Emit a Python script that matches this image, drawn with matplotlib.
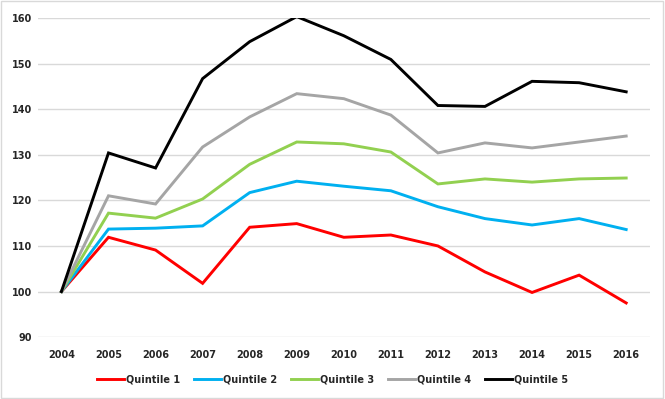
import numpy as np
import matplotlib.pyplot as plt
from matplotlib.patches import Rectangle

years = np.arange(2004, 2017)
q1 = [100, 111.9, 109.1, 101.8, 114.1, 114.9, 111.9, 112.4, 110.0, 104.3, 99.8, 103.6, 97.5]
q2 = [100, 113.7, 113.9, 114.4, 121.7, 124.2, 123.1, 122.1, 118.6, 116.0, 114.6, 116.0, 113.6]
q3 = [100, 117.2, 116.1, 120.3, 127.9, 132.8, 132.4, 130.6, 123.6, 124.7, 124.0, 124.7, 124.9]
q4 = [100, 121.0, 119.2, 131.7, 138.3, 143.4, 142.3, 138.7, 130.4, 132.6, 131.5, 132.8, 134.1]
q5 = [100, 130.4, 127.1, 146.7, 154.8, 160.3, 156.1, 150.9, 140.8, 140.6, 146.1, 145.8, 143.8]

labels = ['Quintile 1', 'Quintile 2', 'Quintile 3', 'Quintile 4', 'Quintile 5']
colors = ['#ff0000', '#00b0f0', '#92d050', '#a5a5a5', '#000000']
series = [q1, q2, q3, q4, q5]

txt = '#262626'
plt.rcParams['font.family'] = ['DejaVu Sans']

fig = plt.figure(figsize=(6.65, 3.99), dpi=100)
ax = fig.add_axes([0.057, 0.155, 0.92, 0.80])

for s, c, l in zip(series, colors, labels):
	ax.plot(years, s, color=c, lw=2.1, label=l, solid_joinstyle='miter')

ax.set_xlim(2003.5, 2016.5)
ax.set_ylim(90, 160)
ax.set_xticks(years)
ax.set_yticks(np.arange(90, 161, 10))
ax.grid(axis='y', color='#d9d9d9', lw=1)
ax.set_axisbelow(True)
for sp in ax.spines.values():
	sp.set_visible(False)
ax.tick_params(length=0, labelsize=7, labelcolor=txt, pad=9)
ax.tick_params(axis='y', pad=4)
for t in ax.get_xticklabels() + ax.get_yticklabels():
	t.set_fontweight('bold')

leg = fig.legend(loc='lower center', ncol=5, frameon=False, bbox_to_anchor=(0.5, 0.015),
	prop={'size': 7, 'weight': 'bold'}, handlelength=2.8, handletextpad=0.2, columnspacing=1.4)
for t in leg.get_texts():
	t.set_color(txt)

fig.patches.append(Rectangle((0.002, 0.003), 0.995, 0.994, transform=fig.transFigure,
	fill=False, edgecolor='#d9d9d9', lw=1))

fig.savefig('out.png', dpi=100)
